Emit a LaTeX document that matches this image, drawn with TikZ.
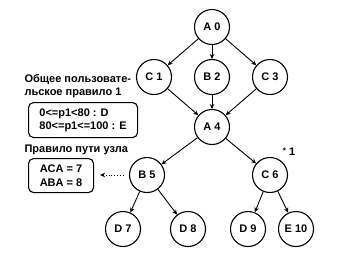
\documentclass[tikz,border=0pt]{standalone}
\usepackage{fontspec}
\setmainfont{Liberation Sans}
\usetikzlibrary{arrows.meta}

\begin{document}
\begin{tikzpicture}[x=1pt,y=-1pt,>={Stealth[length=5pt,width=4.5pt]},
  font=\bfseries\fontsize{11}{13.5}\selectfont,
  tnode/.style={circle,draw,line width=1.1pt,minimum size=35pt,inner sep=0pt},
  tedge/.style={->,line width=0.9pt},
  rulebox/.style={draw,line width=1.1pt,rounded corners=5pt,align=left,inner xsep=8pt,inner ysep=0pt,anchor=north west}]
\useasboundingbox (0,0) rectangle (337,258);
\node[tnode] (a0) at (212,27) {A 0};
\node[tnode] (c1) at (154,77) {C 1};
\node[tnode] (b2) at (212,77) {B 2};
\node[tnode] (c3) at (270,77) {C 3};
\node[tnode] (a4) at (212,127) {A 4};
\node[tnode] (b5) at (147,175) {B 5};
\node[tnode] (c6) at (270,175) {C 6};
\node[tnode] (d7) at (123,229) {D 7};
\node[tnode] (d8) at (188,229) {D 8};
\node[tnode] (d9) at (248,229) {D 9};
\node[tnode] (e10) at (296,229) {E 10};
\node (star) at (289,152) {\raisebox{2pt}{\fontsize{8}{8}\selectfont *} 1};
\node[align=left,anchor=west] (gen) at (21,86) {Общее пользовате-\\льское правило 1};
\node[rulebox,minimum width=109pt,minimum height=35pt] (rule1) at (28,102)
  {0<=p1<80 : D\\80<=p1<=100 : E};
\node[anchor=west] (path) at (21,150) {Правило пути узла};
\node[rulebox,minimum width=65pt,minimum height=34pt] (rule2) at (28,158)
  {ACA = 7\\ABA = 8};
\draw[tedge] (a0) -- (c1);
\draw[tedge] (a0) -- (b2);
\draw[tedge] (a0) -- (c3);
\draw[tedge] (c1) -- (a4);
\draw[tedge] (b2) -- (a4);
\draw[tedge] (c3) -- (a4);
\draw[tedge] (a4) -- (b5);
\draw[tedge] (a4) -- (c6);
\draw[tedge] (b5) -- (d7);
\draw[tedge] (b5) -- (d8);
\draw[tedge] (c6) -- (d9);
\draw[tedge] (c6) -- (e10);
\draw[tedge,dotted,shorten >=6pt,shorten <=5pt] (b5) -- (rule2.east |- b5);
\end{tikzpicture}
\end{document}
